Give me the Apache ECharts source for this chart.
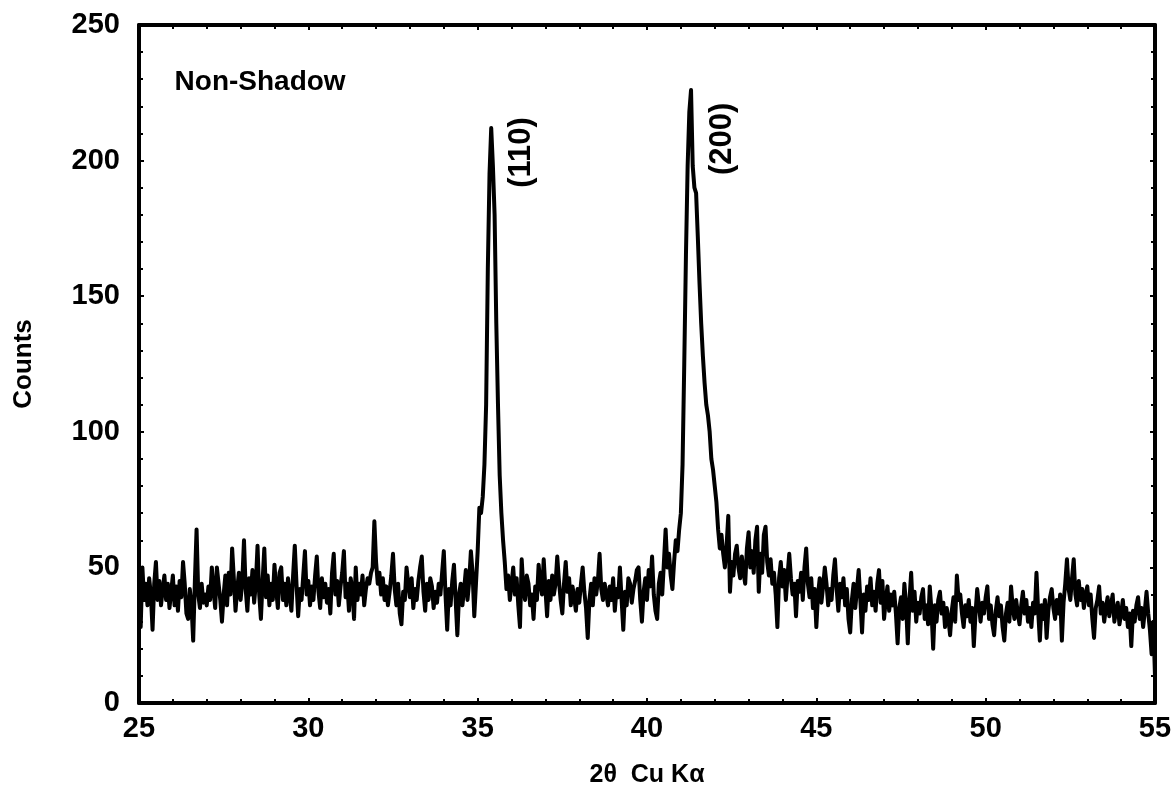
<!DOCTYPE html>
<html>
<head>
<meta charset="utf-8">
<script src="https://cdn.jsdelivr.net/npm/echarts@6/dist/echarts.min.js"></script>
<style>
html,body{margin:0;padding:0;background:#fff;}
#chart{width:1175px;height:800px;}
</style>
</head>
<body>
<div id="chart"></div>
<script>
// Scan grid (2θ start and step, degrees)
const thetaStart = 25;
const thetaStep = 0.05;

// Counts, one row per degree (25.00 ... 54.95), then 55.00
const counts = [
  40,28,50,38,44,36,46,40,27,44,52,38,45,36,42,47,38,44,35,41,
  47,36,43,34,45,39,52,44,33,31,42,36,23,45,64,40,35,44,37,40,
  36,43,38,50,42,35,50,44,38,30,40,47,36,48,40,57,46,34,42,48,
  38,45,60,42,34,46,40,49,37,44,58,40,31,45,57,39,47,36,44,38,
  51,42,35,48,50,38,44,36,46,40,34,47,58,44,32,42,38,47,56,40,
  45,36,43,38,47,54,41,35,46,39,44,37,42,33,48,55,40,45,36,43,
  48,56,39,44,34,46,42,31,50,38,44,40,47,36,42,46,44,48,50,67,
  52,44,48,40,46,38,43,36,41,47,55,42,36,44,33,29,41,38,50,44,
  39,46,35,42,38,45,50,54,41,34,44,38,46,43,35,41,37,44,40,48,
  56,40,27,42,36,45,51,38,25,40,44,36,42,49,38,45,56,48,32,44,
  56,72,70,76,88,110,160,195,212,198,180,140,110,84,70,60,52,42,47,38,
  44,50,40,46,36,28,53,42,38,47,44,36,40,31,43,38,51,44,40,53,
  42,32,45,38,47,40,44,54,45,38,33,44,52,41,46,36,43,39,34,42,
  37,44,50,41,35,24,38,44,36,46,40,45,55,42,38,44,40,36,43,38,
  46,34,42,39,50,38,27,41,36,46,44,37,42,45,49,50,38,30,41,46,
  38,49,43,54,40,34,31,44,48,40,52,64,50,55,47,42,52,60,56,64,
  70,88,125,165,198,218,226,198,190,188,172,155,140,128,118,110,106,100,90,86,
  80,74,64,57,62,55,50,58,69,41,52,47,55,58,50,46,54,48,44,57,
  63,50,56,48,60,65,41,55,48,62,65,52,47,53,44,48,40,28,46,52,
  43,49,38,47,55,46,40,44,32,45,41,48,38,50,57,44,39,46,35,42,
  28,40,46,37,43,50,44,36,42,38,47,53,42,34,44,39,46,36,42,31,
  26,38,44,35,42,49,38,26,40,34,43,38,46,36,41,34,44,49,37,45,
  31,38,43,34,40,36,41,33,22,35,39,31,44,36,22,38,48,34,41,30,
  37,33,39,42,31,36,29,43,34,20,36,30,38,41,33,37,28,35,31,25,
  34,39,30,47,38,40,33,28,36,32,38,30,35,21,33,42,36,30,37,33,
  39,43,31,36,29,25,34,39,32,36,28,23,33,37,30,43,35,31,38,33,
  29,36,41,33,38,30,35,28,37,33,48,34,23,36,31,38,24,34,39,42,
  35,31,38,33,40,23,37,44,53,42,38,46,53,40,36,45,38,42,35,40,
  43,36,40,31,24,35,38,43,33,37,30,35,39,32,36,40,30,34,37,29,
  33,38,31,35,28,33,21,34,30,36,39,31,35,28,34,41,33,27,18,30,
  10
];

// Axis tick settings (values)
const xMin = 25, xMax = 55, xStep = 5;
const yMin = 0, yMax = 250, yStep = 50;

// Texts
const sampleLabel = 'Non-Shadow';
const xTitle = '2\u03b8  Cu K\u03b1';
const yTitle = 'Counts';
const peakLabels = [
  { text: '(110)', at: [36.28, 203] },
  { text: '(200)', at: [42.24, 208] }
];
const sampleLabelAt = [26.05, 229];

const seriesData = counts.map((c, i) => [+(thetaStart + i * thetaStep).toFixed(2), c]);

const FONT = '"Liberation Sans", Arial, Helvetica, sans-serif';
const axisLineStyle = { color: '#000', width: 4 };

function boxAxis(common, extra) {
  return Object.assign({}, common, extra);
}

const xCommon = {
  type: 'value', min: xMin, max: xMax, interval: xStep,
  axisLine: { show: true, onZero: false, lineStyle: axisLineStyle },
  axisTick: { show: true, inside: true, length: 5, lineStyle: { color: '#000', width: 2 } },
  minorTick: { show: true, splitNumber: 5, length: 4, lineStyle: { color: '#000', width: 2 } },
  splitLine: { show: false }, minorSplitLine: { show: false }
};
const yCommon = {
  type: 'value', min: yMin, max: yMax, interval: yStep,
  axisLine: { show: true, onZero: false, lineStyle: axisLineStyle },
  axisTick: { show: true, inside: true, length: 5, lineStyle: { color: '#000', width: 2 } },
  minorTick: { show: true, splitNumber: 5, length: 4, lineStyle: { color: '#000', width: 2 } },
  splitLine: { show: false }, minorSplitLine: { show: false }
};

const chart = echarts.init(document.getElementById('chart'), null, { renderer: 'canvas' });
chart.setOption({
  animation: false,
  backgroundColor: '#fff',
  grid: { left: 139, right: 20, top: 25, bottom: 97, containLabel: false },
  xAxis: [
    boxAxis(xCommon, {
      position: 'bottom',
      axisLabel: { color: '#000', fontFamily: FONT, fontWeight: 'bold', fontSize: 29, margin: 11 },
      name: xTitle, nameLocation: 'middle', nameGap: 60,
      nameTextStyle: { color: '#000', fontFamily: FONT, fontWeight: 'bold', fontSize: 25 }
    }),
    boxAxis(xCommon, { position: 'top', axisLabel: { show: false } })
  ],
  yAxis: [
    boxAxis(yCommon, {
      position: 'left',
      axisLabel: { color: '#000', fontFamily: FONT, fontWeight: 'bold', fontSize: 29, margin: 19 },
      name: yTitle, nameLocation: 'middle', nameGap: 102, nameRotate: 90,
      nameTextStyle: { color: '#000', fontFamily: FONT, fontWeight: 'bold', fontSize: 26 }
    }),
    boxAxis(yCommon, { position: 'right', axisLabel: { show: false } })
  ],
  series: [{
    type: 'line',
    xAxisIndex: 0, yAxisIndex: 0,
    data: seriesData,
    showSymbol: false,
    symbol: 'none',
    lineStyle: { color: '#000', width: 4, join: 'round' },
    z: 3
  }]
});

// Annotations anchored to data coordinates
const gfx = [];
const sp = chart.convertToPixel({ xAxisIndex: 0, yAxisIndex: 0 }, sampleLabelAt);
gfx.push({
  type: 'text', x: sp[0], y: sp[1],
  style: { text: sampleLabel, fill: '#000', font: 'bold 28px ' + FONT, align: 'left', verticalAlign: 'middle' }
});
peakLabels.forEach(p => {
  const px = chart.convertToPixel({ xAxisIndex: 0, yAxisIndex: 0 }, p.at);
  gfx.push({
    type: 'text', x: px[0], y: px[1], rotation: Math.PI / 2,
    style: { text: p.text, fill: '#000', font: 'bold 31px ' + FONT, align: 'center', verticalAlign: 'middle' }
  });
});
chart.setOption({ graphic: gfx });
</script>
</body>
</html>
